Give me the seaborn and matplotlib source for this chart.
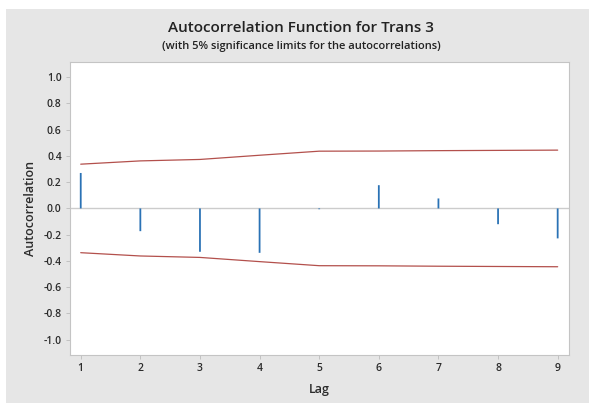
import matplotlib
matplotlib.use('Agg')
import matplotlib.pyplot as plt
import seaborn as sns
import pandas as pd
from matplotlib.patches import Rectangle

# values
lags = [1, 2, 3, 4, 5, 6, 7, 8, 9]
acf = [0.27, -0.173, -0.33, -0.338, -0.006, 0.177, 0.076, -0.12, -0.228]
upper = [0.337, 0.362, 0.373, 0.405, 0.436, 0.437, 0.440, 0.442, 0.444]
lower = [-u for u in upper]
yticks = [1.0, 0.8, 0.6, 0.4, 0.2, 0.0, -0.2, -0.4, -0.6, -0.8, -1.0]

df = pd.DataFrame({'Lag': lags, 'ACF': acf, 'upper': upper, 'lower': lower})

sns.set_theme(style='white')
plt.rcParams['font.family'] = ['Open Sans', 'DejaVu Sans']

fig = plt.figure(figsize=(5.89, 4.03), dpi=100)
fig.patch.set_facecolor('white')
# grey panel behind the plot
fig.patches.append(Rectangle((6/589, 0), 1 - 6/589, 1 - 9/403, transform=fig.transFigure,
                             facecolor='#e6e6e6', edgecolor='none', zorder=-5))

ax = fig.add_axes([70/589, 1 - 355/403, (569 - 70)/589, (355 - 62)/403])
ax.set_zorder(2)
ax.set_facecolor('white')

ax.axhline(0, color='#cccccc', lw=1, zorder=1)
sns.lineplot(data=df, x='Lag', y='upper', color='#b3504c', lw=0.9, ax=ax)
sns.lineplot(data=df, x='Lag', y='lower', color='#b3504c', lw=0.9, ax=ax)
sns.barplot(data=df, x='Lag', y='ACF', native_scale=True, width=0.03,
            color='#2a72b5', linewidth=0, saturation=1, ax=ax)
for p in ax.patches:
    p.set_snap(False)

ax.set_xlim(0.82, 9.19)
ax.set_ylim(-1.116, 1.115)
ax.set_xticks(lags)
ax.set_xticklabels([str(l) for l in lags])
ax.set_yticks(yticks)
ax.set_yticklabels([f'{t:.1f}' for t in yticks])
ax.tick_params(axis='both', which='both', length=3, width=0.6, color='#bbbbbb',
               labelsize=7.5, labelcolor='#2b2b2b', bottom=True, left=True, pad=3)
for lab in ax.get_xticklabels() + ax.get_yticklabels():
    lab.set_fontweight('semibold')
for s in ax.spines.values():
    s.set_color('#c4c4c4')
    s.set_linewidth(0.8)

ax.set_xlabel('Lag', fontsize=9, color='#2b2b2b', labelpad=6, fontweight='semibold')
ax.set_ylabel('Autocorrelation', fontsize=9, color='#2b2b2b', labelpad=5, fontweight='semibold')

fig.text(301/589, 1 - 28/403, 'Autocorrelation Function for Trans 3',
         ha='center', va='center', fontsize=11, color='#222222', fontweight='semibold')
fig.text(301/589, 1 - 46/403, '(with 5% significance limits for the autocorrelations)',
         ha='center', va='center', fontsize=8, color='#222222', fontweight='semibold')

fig.savefig('out.png', dpi=100)
